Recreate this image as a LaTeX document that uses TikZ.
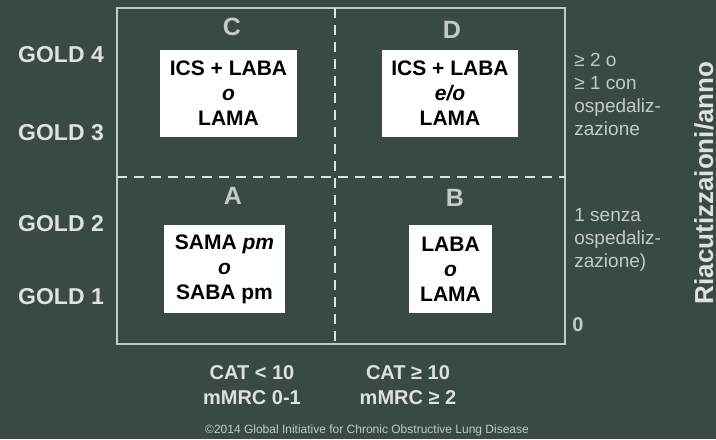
\documentclass[tikz,border=0pt]{standalone}
\usepackage{fontspec}
\setmainfont{Liberation Sans}
\usepackage{tikz}
\usetikzlibrary{positioning, calc}
\definecolor{board}{RGB}{56,74,67}
\definecolor{chalk}{RGB}{222,226,222}
\definecolor{softgrey}{RGB}{196,202,198}

\tikzset{
  gold/.style={chalk, font=\fontsize{11.5}{12}\selectfont\bfseries},
  quad/.style={softgrey, font=\fontsize{12.5}{13}\selectfont\bfseries},
  therapy/.style={fill=white, text=black, align=center, inner sep=0pt,
    font=\fontsize{10.5}{12.5}\selectfont\bfseries},
  side/.style={softgrey, align=left, anchor=north west, inner sep=0pt,
    font=\fontsize{9.5}{11.5}\selectfont},
  split/.style={chalk, line width=1pt, dash pattern=on 5pt off 3.5pt}
}

\begin{document}
\begin{tikzpicture}[x=0.5pt, y=-0.5pt]
  \fill[board] (0,0) rectangle (716,439);
  \useasboundingbox (0,0) rectangle (716,439);

  % frame and quadrant borders
  \coordinate (tl) at (117,8);
  \coordinate (br) at (565,344);
  \coordinate (midtop) at (335,8);
  \coordinate (midbot) at (335,344);
  \coordinate (midleft) at (117,177);
  \coordinate (midright) at (565,177);
  \draw[softgrey, line width=0.8pt] (tl) rectangle (br);
  \draw[split] (midtop) -- (midbot);
  \draw[split] (midleft) -- (midright);

  % GOLD levels
  \foreach \g/\y in {4/55, 3/133, 2/224, 1/297}
    \node[gold] (gold\g) at (61,\y) {GOLD \g};

  % quadrant letters
  \node[quad] (letC) at (232,27) {C};
  \node[quad] (letD) at (452,30) {D};
  \node[quad] (letA) at (233,196) {A};
  \node[quad] (letB) at (455,198) {B};

  % therapies
  \node[therapy, minimum width=68.5pt, minimum height=43.5pt] (boxC) at (228.5,93.5)
    {ICS + LABA\\\textit{o}\\LAMA};
  \node[therapy, minimum width=68pt, minimum height=43.5pt] (boxD) at (450,93.5)
    {ICS + LABA\\\textit{e/o}\\LAMA};
  \node[therapy, minimum width=60.5pt, minimum height=44pt] (boxA) at (224.5,269)
    {SAMA \textit{pm}\\\textit{o}\\SABA pm};
  \node[therapy, minimum width=41.5pt, minimum height=44pt] (boxB) at (450.5,269)
    {LABA\\\textit{o}\\LAMA};

  % exacerbations
  \node[side] (high) at (574,53) {≥ 2 o\\≥ 1 con\\ospedaliz-\\zazione};
  \node[side] (low) at (574,208) {1 senza\\ospedaliz-\\zazione)};
  \node[softgrey, font=\fontsize{10}{12}\selectfont\bfseries] (zero) at (578,325) {0};
  \node[chalk, rotate=90, font=\fontsize{13}{14}\selectfont\bfseries] (axis) at (704,183)
    {Riacutizzaioni/anno};

  % symptoms
  \node[chalk, align=center, font=\fontsize{10}{12.5}\selectfont\bfseries] (low sym) at (252,385)
    {CAT < 10\\mMRC 0-1};
  \node[chalk, align=center, font=\fontsize{10}{12.5}\selectfont\bfseries] (high sym) at (408,385)
    {CAT ≥ 10\\mMRC ≥ 2};
  \node[softgrey, font=\fontsize{6}{7}\selectfont] (copy) at (367,430)
    {©2014 Global Initiative for Chronic Obstructive Lung Disease};
\end{tikzpicture}
\end{document}
